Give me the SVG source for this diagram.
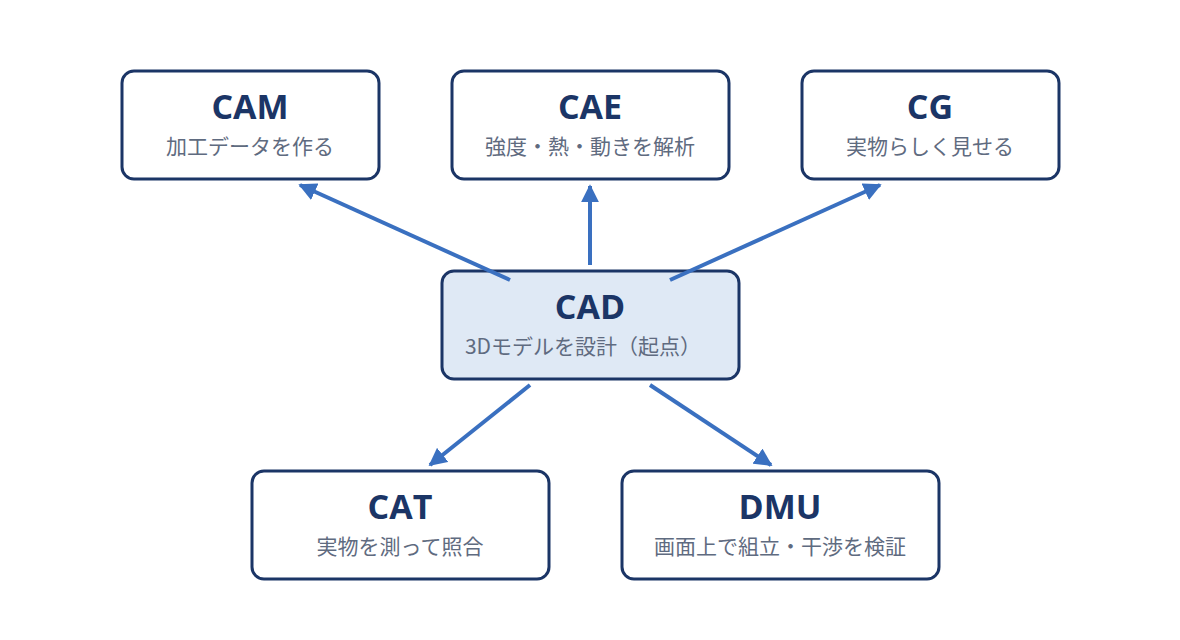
<svg xmlns="http://www.w3.org/2000/svg" width="1180" height="640" viewBox="0 0 1180 640">
<style>
.box{fill:#fff;stroke:#1b3566;stroke-width:3}
.t{font-family:"Open Sans","Liberation Sans",sans-serif;font-weight:bold;font-size:34px;fill:#1b3566;text-anchor:middle}
.s{font-family:"Noto Sans CJK JP",sans-serif;font-size:21px;fill:#5f6b80;text-anchor:middle}
.c{stroke:#3a70c0;stroke-width:4;fill:none;marker-end:url(#a)}
</style>
<defs><marker id="a" viewBox="0 0 10 10" refX="9" refY="5" markerWidth="4.5" markerHeight="4.5" orient="auto" markerUnits="strokeWidth"><path d="M0,0L10,5L0,10z" fill="#3a70c0"/></marker></defs>
<rect width="1180" height="640" fill="#fff"/>
<g id="CAM"><rect class="box" x="122" y="71" width="257" height="108" rx="12"/><text class="t" x="250" y="119">CAM</text><text class="s" x="250" y="154">加工データを作る</text></g>
<g id="CAE"><rect class="box" x="452" y="71" width="277" height="108" rx="12"/><text class="t" x="590" y="119">CAE</text><text class="s" x="590" y="154">強度・熱・動きを解析</text></g>
<g id="CG"><rect class="box" x="802" y="71" width="257" height="108" rx="12"/><text class="t" x="930" y="119">CG</text><text class="s" x="930" y="154">実物らしく見せる</text></g>
<g id="CAD"><rect class="box" style="fill:#dfe9f5" x="442" y="271" width="297" height="108" rx="12"/><text class="t" x="590" y="319">CAD</text><text class="s" x="583" y="354">3Dモデルを設計（起点）</text></g>
<g id="CAT"><rect class="box" x="252" y="471" width="297" height="108" rx="12"/><text class="t" x="400" y="519">CAT</text><text class="s" x="400" y="554">実物を測って照合</text></g>
<g id="DMU"><rect class="box" x="622" y="471" width="317" height="108" rx="12"/><text class="t" x="780" y="519">DMU</text><text class="s" x="780" y="554">画面上で組立・干渉を検証</text></g>
<g id="connectors">
<line class="c" x1="510" y1="280" x2="300" y2="185"/>
<line class="c" x1="590" y1="265" x2="590" y2="186"/>
<line class="c" x1="670" y1="280" x2="880" y2="185"/>
<line class="c" x1="530" y1="385" x2="430" y2="465"/>
<line class="c" x1="650" y1="385" x2="771" y2="465"/>
</g>
</svg>
